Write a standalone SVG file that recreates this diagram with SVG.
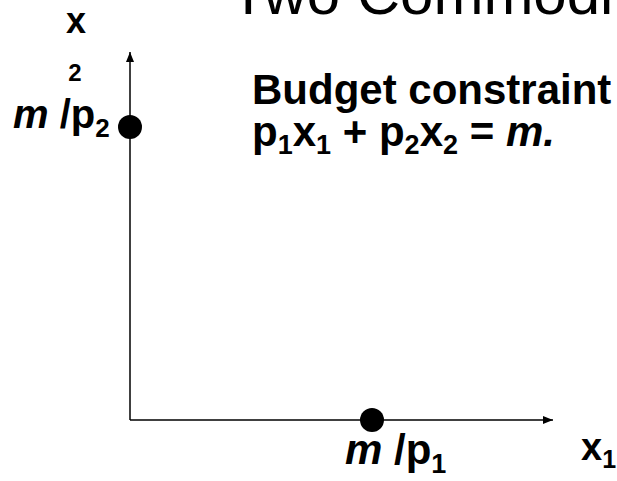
<svg xmlns="http://www.w3.org/2000/svg" width="617" height="481" viewBox="0 0 617 481">
<defs>
<style>
text{font-family:"Liberation Sans",Arial,sans-serif;fill:#000}
.b{font-weight:bold}
.i{font-style:italic}
.ax{stroke:#000;stroke-width:1.5;fill:none}
</style>
<marker id="ah" viewBox="0 0 10 8" refX="10" refY="4" markerWidth="10" markerHeight="8" markerUnits="userSpaceOnUse" orient="auto">
<path d="M0,0 L10,4 L0,8 Z" fill="#000"/>
</marker>
</defs>
<rect width="617" height="481" fill="#fff"/>
<text id="title" x="230" y="14" font-size="60">Two Commodities</text>
<g id="connectors">
<line class="ax" x1="130" y1="420" x2="130" y2="52" marker-end="url(#ah)"/>
<line class="ax" x1="130" y1="420" x2="553" y2="420" marker-end="url(#ah)"/>
</g>
<g id="y-axis-label">
<text class="b" x="76" y="33" font-size="36" text-anchor="middle">x</text>
<text class="b" x="75" y="81" font-size="24" text-anchor="middle">2</text>
</g>
<g id="x-axis-label">
<text class="b" x="581" y="460" font-size="38">x<tspan font-size="25" dy="8">1</tspan></text>
</g>
<g id="point-y">
<circle cx="130" cy="127" r="12" fill="#000"/>
<text class="b" x="13" y="128" font-size="40"><tspan class="i">m</tspan> /p<tspan font-size="26" dy="9">2</tspan></text>
</g>
<g id="point-x">
<circle cx="372" cy="420" r="12" fill="#000"/>
<text class="b" x="345" y="464" font-size="42"><tspan class="i">m</tspan> /p<tspan font-size="27" dy="9">1</tspan></text>
</g>
<g id="budget">
<text class="b" x="252" y="104" font-size="42">Budget constraint</text>
<text class="b" x="252" y="146" font-size="42">p<tspan font-size="27" dy="8">1</tspan><tspan dy="-8">x</tspan><tspan font-size="27" dy="8">1</tspan><tspan dy="-8"> + p</tspan><tspan font-size="27" dy="8">2</tspan><tspan dy="-8">x</tspan><tspan font-size="27" dy="8">2</tspan><tspan dy="-8"> = </tspan><tspan class="i">m.</tspan></text>
</g>
</svg>
